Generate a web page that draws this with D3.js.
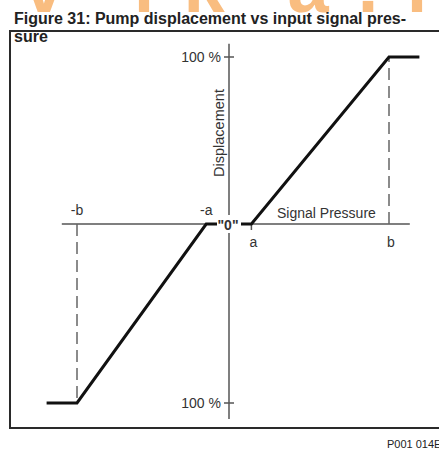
<!DOCTYPE html>
<html>
<head>
<meta charset="utf-8">
<script src="https://cdn.jsdelivr.net/npm/d3@7/dist/d3.min.js"></script>
<style>
  html, body { margin: 0; padding: 0; background: #fff; }
  svg { display: block; }
</style>
</head>
<body>
<svg id="chart" width="439" height="450"></svg>
<script>
// Pump characteristic: displacement (%) against signal pressure.
// Pressure is in units where b = 1; a is the start of stroke.
const pressure     = [-1.2, -1.0, -0.15, 0.14, 1.0, 1.19];
const displacement = [-100, -100, 0, 0, 100, 100];

// Marked pressures on the horizontal axis
const pressureMarks = [
  { label: "-b", value: -1.0 },
  { label: "-a", value: -0.15 },
  { label: "a",  value: 0.14 },
  { label: "b",  value: 1.0 }
];
// Marked displacements on the vertical axis
const displacementTicks = [100, -100];
const displacementTickLabels = ["100 %", "100 %"];

const titleLines = ["Figure 31: Pump displacement vs input signal pres-", "sure"];
const xAxisTitle = "Signal Pressure";
const yAxisTitle = "Displacement";
const zeroLabel = "\"0\"";
const drawingCode = "P001 014E";
const bannerLetters = [
  { ch: "v", at: 44 }, { ch: "i", at: 144 }, { ch: "k", at: 204 },
  { ch: "a", at: 308 }, { ch: ".", at: 368 }, { ch: "i", at: 417 }
];

const svg = d3.select("#chart");
const font = "'Liberation Sans', Arial, Helvetica, sans-serif";

// Scales (origin is not centred in the frame, so both are polylinear)
const x = d3.scaleLinear().domain([-1, 0, 1]).range([77, 229, 389]);
const y = d3.scaleLinear().domain([-100, 0, 100]).range([403, 224, 57]);

// Light banner lettering along the top edge, clipped to a thin strip
const banner = svg.append("svg")
  .attr("x", 0).attr("y", 0).attr("width", 439).attr("height", 13)
  .attr("overflow", "hidden");
banner.selectAll("text").data(bannerLetters).join("text")
  .attr("x", d => d.at).attr("y", 12)
  .attr("text-anchor", "middle")
  .attr("font-family", font).attr("font-weight", "bold").attr("font-size", 74)
  .attr("fill", "#f9bd80")
  .text(d => d.ch);

// Title
svg.append("g").selectAll("text").data(titleLines).join("text")
  .attr("x", 14).attr("y", (d, i) => 24 + i * 18)
  .attr("font-family", font).attr("font-weight", "bold").attr("font-size", 16)
  .attr("fill", "#222")
  .text(d => d);

// Frame
svg.append("path")
  .attr("d", "M441,31 H10 V428 H441")
  .attr("fill", "none").attr("stroke", "#2a2a2a").attr("stroke-width", 2);

const axisColor = "#555";

// Horizontal (pressure) axis
svg.append("line")
  .attr("x1", x(-1.1)).attr("x2", x(1.13))
  .attr("y1", y(0)).attr("y2", y(0))
  .attr("stroke", axisColor).attr("stroke-width", 1.5);

// Vertical (displacement) axis
svg.append("line")
  .attr("x1", x(0)).attr("x2", x(0))
  .attr("y1", y(108)).attr("y2", y(-109))
  .attr("stroke", axisColor).attr("stroke-width", 1.5);

// Displacement ticks and labels
const yt = svg.append("g");
yt.selectAll("line").data(displacementTicks).join("line")
  .attr("x1", x(0) - 5).attr("x2", x(0) + 5)
  .attr("y1", d => y(d)).attr("y2", d => y(d))
  .attr("stroke", axisColor).attr("stroke-width", 1.5);
yt.selectAll("text").data(displacementTicks).join("text")
  .attr("x", x(0) - 8).attr("y", d => y(d) + 5)
  .attr("text-anchor", "end")
  .attr("font-family", font).attr("font-size", 14).attr("fill", "#333")
  .text((d, i) => displacementTickLabels[i]);

// Dashed projections from the saturation corners onto the pressure axis
svg.append("g").selectAll("line")
  .data(pressureMarks.filter(m => Math.abs(m.value) === 1))
  .join("line")
  .attr("x1", d => x(d.value)).attr("x2", d => x(d.value))
  .attr("y1", y(0)).attr("y2", d => y(d.value * 100))
  .attr("stroke", "#666").attr("stroke-width", 1.5)
  .attr("stroke-dasharray", "12,6");

// Small tick at +a
svg.append("line")
  .attr("x1", x(0.14)).attr("x2", x(0.14))
  .attr("y1", y(0)).attr("y2", y(0) + 6)
  .attr("stroke", axisColor).attr("stroke-width", 1.5);

// Pressure labels: negative ones above the axis, positive ones below
svg.append("g").selectAll("text").data(pressureMarks).join("text")
  .attr("x", d => x(d.value) + (d.value < 0 ? 0 : 2))
  .attr("y", d => d.value < 0 ? y(0) - 9 : y(0) + 23)
  .attr("text-anchor", "middle")
  .attr("font-family", font).attr("font-size", 14).attr("fill", "#333")
  .text(d => d.label);

// Characteristic curve
const line = d3.line().x(d => x(d[0])).y(d => y(d[1]));
svg.append("path")
  .datum(d3.zip(pressure, displacement))
  .attr("d", line)
  .attr("fill", "none").attr("stroke", "#111").attr("stroke-width", 3)
  .attr("stroke-linejoin", "miter");

// Zero label over the origin
svg.append("rect")
  .attr("x", x(0) - 12).attr("y", y(0) - 9)
  .attr("width", 24).attr("height", 18)
  .attr("fill", "#fff");
svg.append("text")
  .attr("x", x(0) - 1).attr("y", y(0) + 6)
  .attr("text-anchor", "middle")
  .attr("font-family", font).attr("font-weight", "bold").attr("font-size", 14)
  .attr("fill", "#333")
  .text(zeroLabel);

// Axis titles
svg.append("text")
  .attr("x", 277).attr("y", y(0) - 6)
  .attr("font-family", font).attr("font-size", 14).attr("fill", "#333")
  .text(xAxisTitle);
svg.append("text")
  .attr("transform", `translate(${x(0) - 5},133) rotate(-90)`)
  .attr("text-anchor", "middle")
  .attr("font-family", font).attr("font-size", 14.5).attr("fill", "#333")
  .text(yAxisTitle);

// Drawing reference
svg.append("text")
  .attr("x", 387).attr("y", 448)
  .attr("font-family", font).attr("font-size", 11).attr("fill", "#222")
  .text(drawingCode);
</script>
</body>
</html>
